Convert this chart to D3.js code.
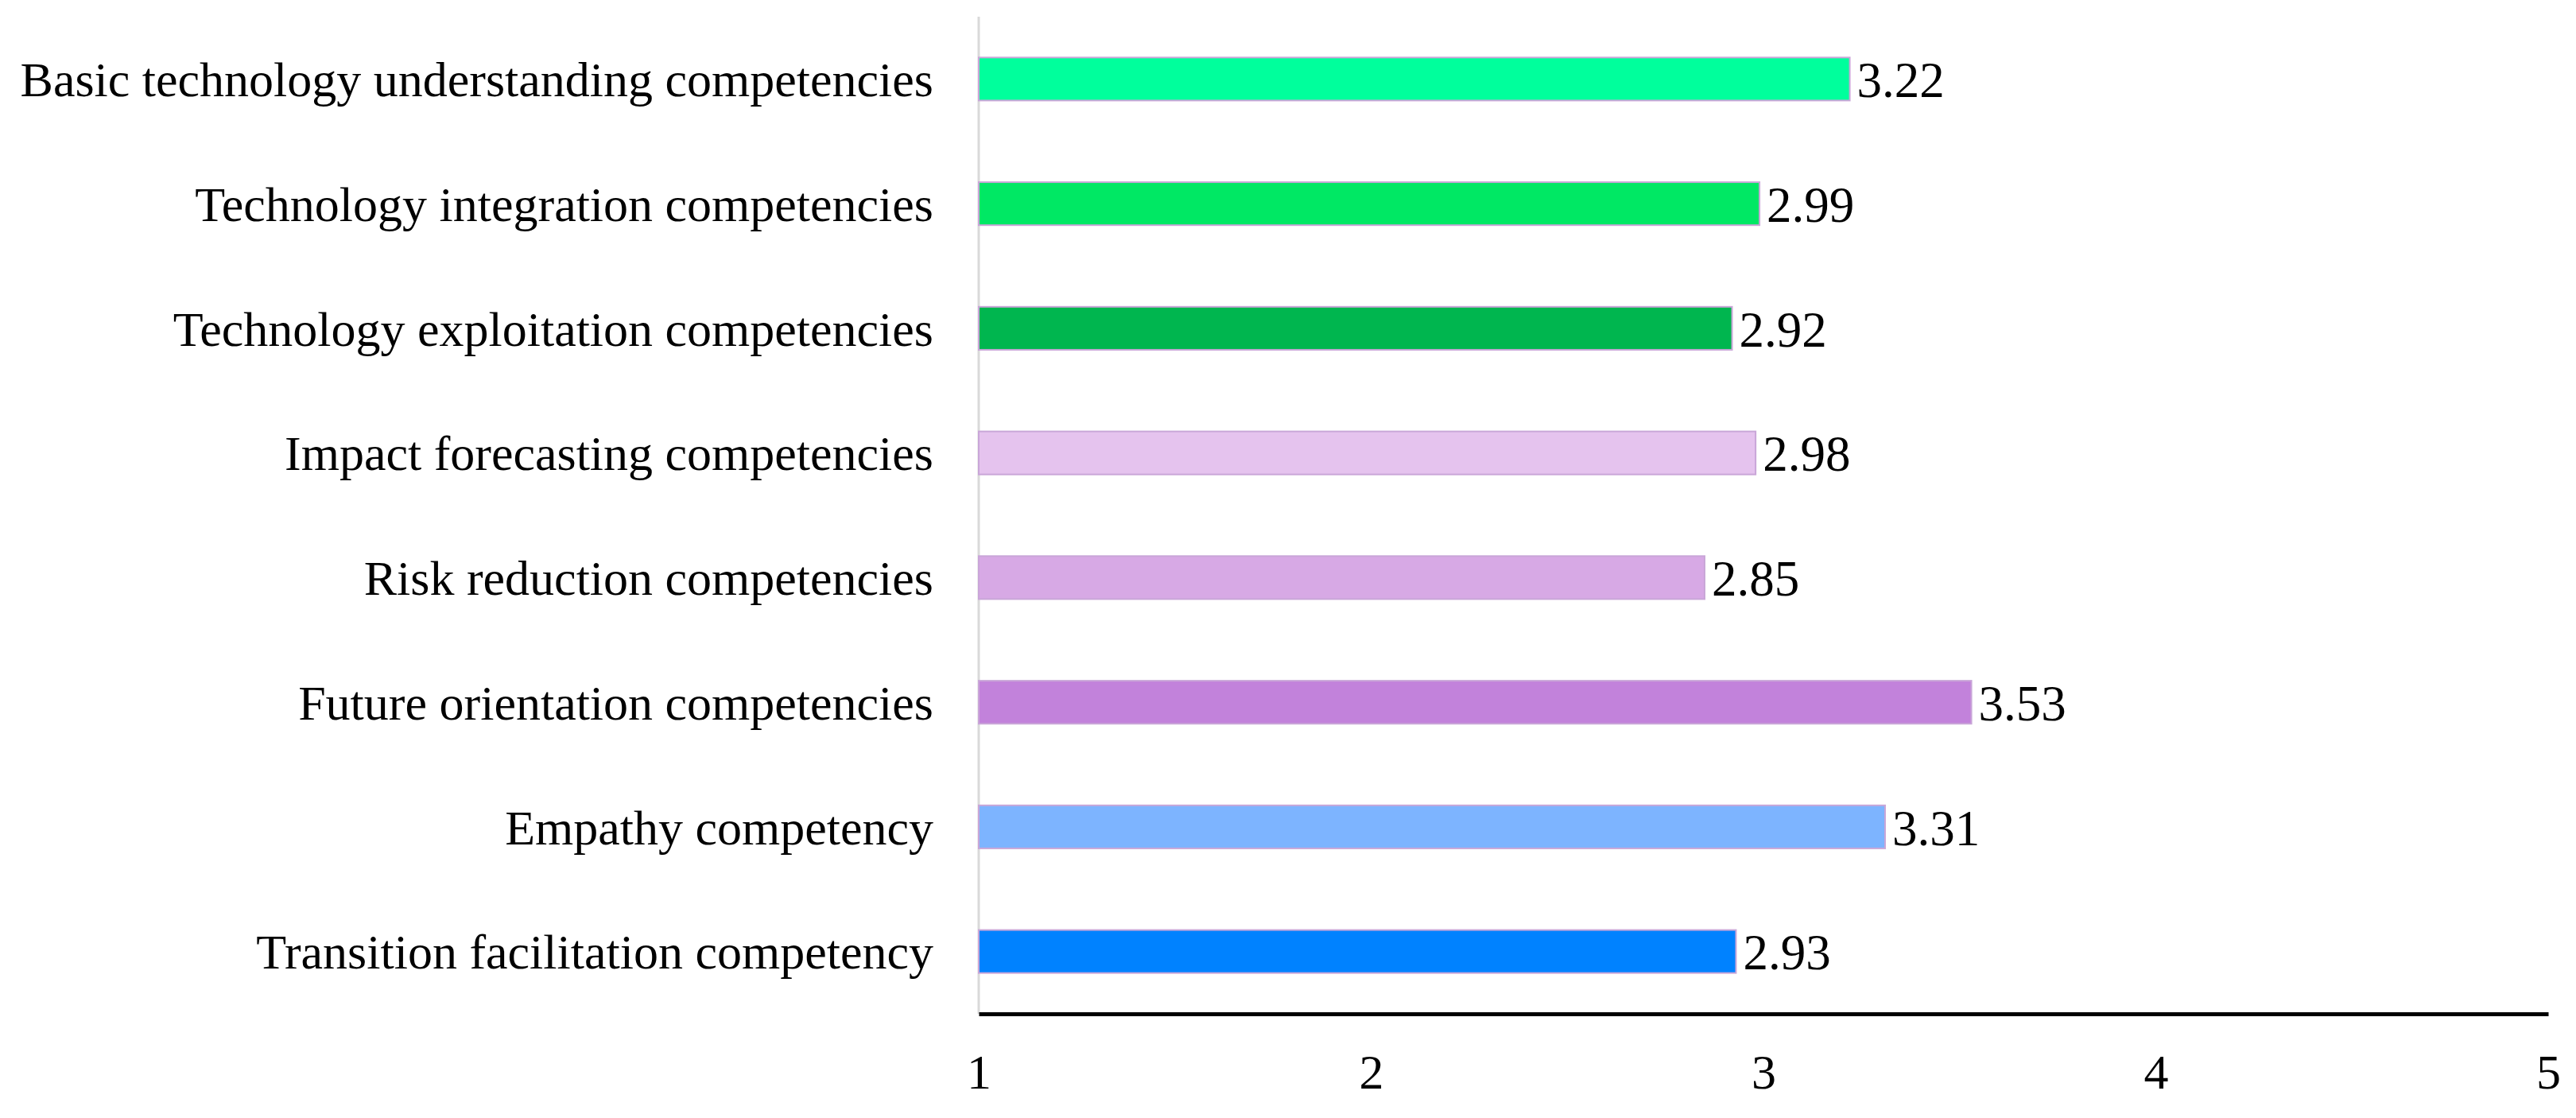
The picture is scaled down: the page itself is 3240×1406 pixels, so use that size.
<!DOCTYPE html>
<html><head><meta charset="utf-8">
<script src="https://cdn.jsdelivr.net/npm/d3@7"></script>
<style>body{margin:0;background:#fff}</style>
</head><body>
<svg id="chart" width="3240" height="1406"></svg>
<script>
const categories = [
  "Basic technology understanding competencies",
  "Technology integration competencies",
  "Technology exploitation competencies",
  "Impact forecasting competencies",
  "Risk reduction competencies",
  "Future orientation competencies",
  "Empathy competency",
  "Transition facilitation competency"
];
const values = [3.22, 2.99, 2.92, 2.98, 2.85, 3.53, 3.31, 2.93];
const colors = ["#00FF9C", "#00E864", "#00B64F", "#E5C3EE", "#D7A9E5", "#C282DB", "#7DB4FF", "#0082FF"];
const xTicks = [1, 2, 3, 4, 5];

const svg = d3.select("#chart");
const mLeft = 1231, mRight = 3205, mTop = 21, mBottom = 1275;
const x = d3.scaleLinear().domain([1, 5]).range([mLeft, mRight]);
const y = d3.scaleBand().domain(categories).range([mTop, mBottom]).paddingInner(0.655).paddingOuter(0.3275);

svg.append("line").attr("x1", mLeft).attr("x2", mLeft).attr("y1", mTop).attr("y2", mBottom)
  .attr("stroke", "#d9d9d9").attr("stroke-width", 3);

svg.selectAll("rect.bar").data(categories).join("rect")
  .attr("class", "bar")
  .attr("x", x(1))
  .attr("y", d => y(d))
  .attr("width", (d, i) => x(values[i]) - x(1))
  .attr("height", y.bandwidth())
  .attr("fill", (d, i) => colors[i])
  .attr("stroke", "#c9a6d8")
  .attr("stroke-width", 2);

svg.selectAll("text.val").data(categories).join("text")
  .attr("class", "val")
  .attr("x", (d, i) => x(values[i]) + 9)
  .attr("y", d => y(d) + y.bandwidth() / 2)
  .attr("dy", "0.36em")
  .attr("font-family", "Liberation Serif")
  .attr("font-size", 63)
  .attr("fill", "#000")
  .text((d, i) => values[i].toFixed(2));

svg.selectAll("text.cat").data(categories).join("text")
  .attr("class", "cat")
  .attr("x", mLeft - 57)
  .attr("y", d => y(d) + y.bandwidth() / 2)
  .attr("dy", "0.35em")
  .attr("text-anchor", "end")
  .attr("font-family", "Liberation Serif")
  .attr("font-size", 62)
  .attr("fill", "#000")
  .text(d => d);

const xAxis = d3.axisBottom(x).tickValues(xTicks).tickSize(0).tickPadding(50).tickFormat(d3.format("d"));
const g = svg.append("g").attr("transform", `translate(0,${mBottom})`).call(xAxis);
g.select(".domain").attr("stroke", "#000").attr("stroke-width", 5);
g.selectAll("text").attr("font-family", "Liberation Serif").attr("font-size", 62).attr("fill", "#000");
</script>
</body></html>
